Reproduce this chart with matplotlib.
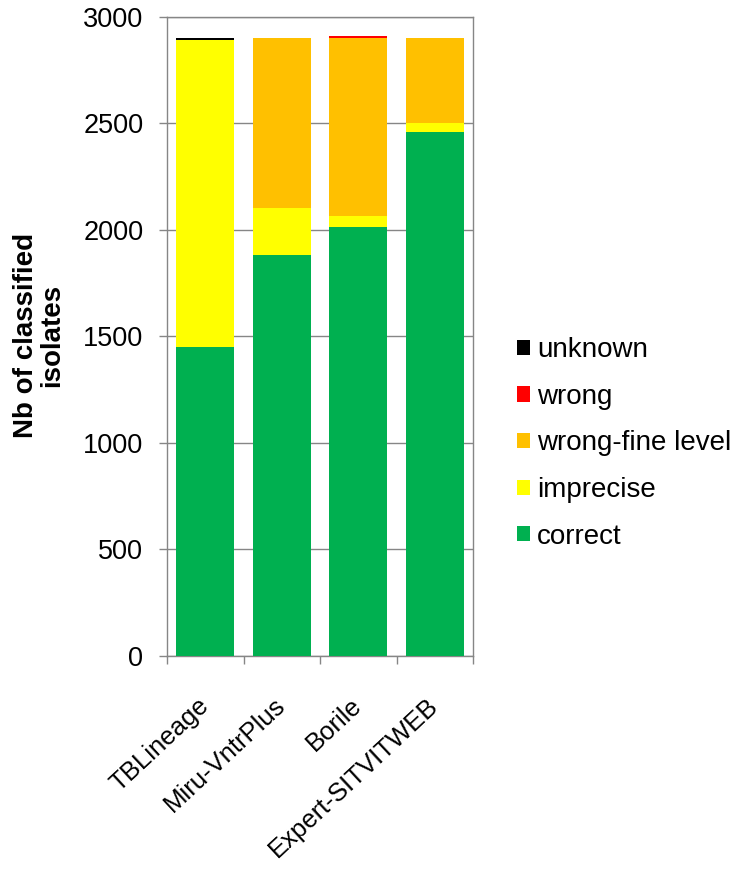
import matplotlib
matplotlib.use("Agg")
import matplotlib.pyplot as plt
import numpy as np

categories = ["TBLineage", "Miru-VntrPlus", "Borile", "Expert-SITVITWEB"]
correct = [1451, 1884, 2012, 2457]
imprecise = [1440, 218, 51, 46]
wrong_fine = [0, 797, 836, 396]
wrong = [0, 0, 9, 0]
unknown = [8, 0, 0, 0]

series = [
    ("correct", correct, "#00B050"),
    ("imprecise", imprecise, "#FFFF00"),
    ("wrong-fine level", wrong_fine, "#FFC000"),
    ("wrong", wrong, "#FF0000"),
    ("unknown", unknown, "#000000"),
]
yticks = [0, 500, 1000, 1500, 2000, 2500, 3000]

plt.rcParams['font.family'] = ['Liberation Sans', 'DejaVu Sans']
fig = plt.figure(figsize=(7.34, 8.69), dpi=100)
ax = fig.add_axes([167/734, 1-656/869, 306/734, (656-16.8)/869])

x = np.arange(len(categories))
bottom = np.zeros(len(categories))
handles = []
for name, vals, col in series:
    v = np.array(vals, dtype=float)
    b = ax.bar(x, v, bottom=bottom, width=0.76, color=col, label=name, zorder=3)
    handles.append(b)
    bottom += v

gray = "#868686"
ax.set_xlim(-0.5, len(categories) - 0.5)
ax.set_ylim(0, 3000)
ax.set_yticks(yticks)
ax.set_yticklabels([str(t) for t in yticks], fontsize=19.5)
ax.yaxis.grid(True, color=gray, linewidth=1.0, zorder=0)
for s in ax.spines.values():
    s.set_color(gray)
    s.set_linewidth(1.0)
ax.tick_params(axis='y', direction='out', length=6, color=gray, width=1.0, pad=11)

ax.set_xticks(x)
ax.set_xticklabels(categories, fontsize=18.5, rotation=43, ha='right', va='center',
                   rotation_mode='anchor')
ax.tick_params(axis='x', which='major', length=0, pad=33)
ax.set_xticks(np.arange(-0.5, len(categories), 1.0), minor=True)
ax.tick_params(axis='x', which='minor', direction='out', length=6, color=gray, width=1.0)

fig.text(39/734, 1-335/869, "Nb of classified\nisolates", rotation=90, ha='center',
         va='center', fontsize=20, fontweight='bold', multialignment='center',
         linespacing=1.0)

leg = fig.legend(handles[::-1], [s[0] for s in series][::-1], loc='center left',
                 bbox_to_anchor=(517/734, 1-443.5/869), frameon=False, fontsize=20,
                 handlelength=0.47, handleheight=0.47, handletextpad=0.25,
                 labelspacing=0.74, borderpad=0, borderaxespad=0)

fig.savefig("out.png", dpi=100)
